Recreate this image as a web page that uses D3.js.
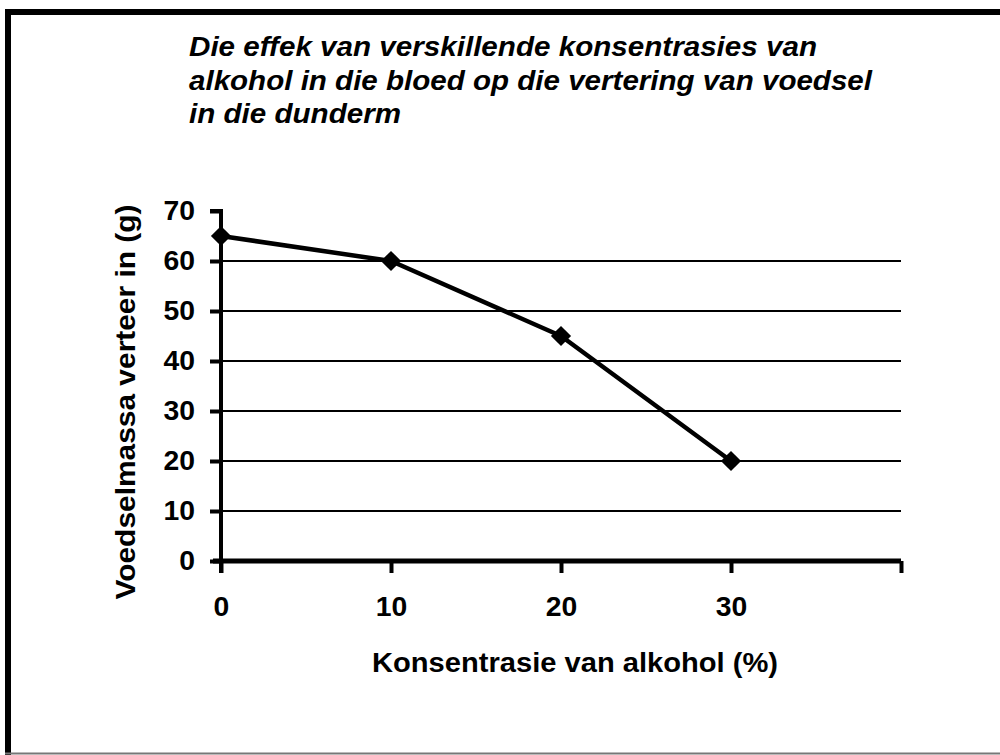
<!DOCTYPE html>
<html><head><meta charset="utf-8">
<script src="https://cdn.jsdelivr.net/npm/d3@7"></script>
<style>body{margin:0;background:#fff}svg{display:block}text{font-family:"Liberation Sans",Arial,sans-serif}</style>
</head><body><svg id="c" width="1000" height="755"></svg>
<script>
const titleLines = ["Die effek van verskillende konsentrasies van","alkohol in die bloed op die vertering van voedsel","in die dunderm"];
const titleWidths = [628, 683, 212];
const xValues = [0, 10, 20, 30];
const yValues = [65, 60, 45, 20];
const xTicks = [0, 10, 20, 30, 40];
const xTickLabels = ["0","10","20","30",""];
const yTicks = [0,10,20,30,40,50,60,70];
const xTitle = "Konsentrasie van alkohol (%)";
const yTitle = "Voedselmassa verteer in (g)";

const svg = d3.select("#c");
svg.append("rect").attr("x",0).attr("y",0).attr("width",1000).attr("height",755).attr("fill","#fff");
svg.append("line").attr("x1",5).attr("x2",1000).attr("y1",12).attr("y2",12).attr("stroke","#000").attr("stroke-width",6);
svg.append("line").attr("x1",8).attr("x2",8).attr("y1",9).attr("y2",755).attr("stroke","#000").attr("stroke-width",6);
svg.append("line").attr("x1",5).attr("x2",1000).attr("y1",753.5).attr("y2",753.5).attr("stroke","#777").attr("stroke-width",2);

const x = d3.scaleLinear().domain([0,40]).range([221,901]);
const y = d3.scaleLinear().domain([0,70]).range([561,211]);

// title
const t = svg.append("g");
titleLines.forEach((l,i)=>t.append("text").attr("x",189).attr("y",56+i*33.5)
  .attr("font-size",28).attr("font-weight","bold").attr("font-style","italic")
  .attr("textLength",titleWidths[i]).attr("lengthAdjust","spacingAndGlyphs").text(l));

// gridlines
svg.append("g").selectAll("line").data(yTicks.filter(d=>d>0 && d<70)).join("line")
  .attr("x1",x(0)).attr("x2",x(40)).attr("y1",d=>y(d)).attr("y2",d=>y(d))
  .attr("stroke","#000").attr("stroke-width",2);

function stretch(sel, f){
  sel.each(function(){ const w=this.getComputedTextLength(); d3.select(this).attr("textLength",w*f).attr("lengthAdjust","spacingAndGlyphs"); });
}

// y axis
const ya = svg.append("g").attr("transform",`translate(${x(0)},0)`)
  .call(d3.axisLeft(y).tickValues(yTicks).tickSize(11).tickPadding(15).tickFormat(d3.format("d")));
ya.select(".domain").attr("stroke-width",4).attr("d",`M-11,${y(70)}H0V${y(0)+12}`);
ya.selectAll(".tick line").attr("stroke-width",4);
ya.selectAll(".tick text").attr("font-size",27).attr("font-weight","bold").attr("fill","#000").attr("font-family","Liberation Sans, Arial, sans-serif");
stretch(ya.selectAll(".tick text"),1.05);

// x axis
const xa = svg.append("g").attr("transform",`translate(0,${y(0)})`)
  .call(d3.axisBottom(x).tickValues(xTicks).tickSize(12).tickPadding(24).tickFormat((d,i)=>xTickLabels[i]));
xa.select(".domain").attr("stroke-width",5).attr("d",`M${x(0)-8},0H${x(40)}`);
xa.selectAll(".tick line").attr("stroke-width",4);
xa.selectAll(".tick text").attr("font-size",27).attr("font-weight","bold").attr("fill","#000").attr("font-family","Liberation Sans, Arial, sans-serif");
stretch(xa.selectAll(".tick text").filter(function(){return this.textContent!=="";}),1.05);

// axis titles
svg.append("text").attr("x",575).attr("y",672).attr("text-anchor","middle").attr("font-size",27).attr("font-weight","bold")
  .attr("textLength",406).attr("lengthAdjust","spacingAndGlyphs").text(xTitle);
svg.append("text").attr("transform","translate(135,402) rotate(-90)").attr("text-anchor","middle").attr("font-size",27).attr("font-weight","bold")
  .attr("textLength",395).attr("lengthAdjust","spacingAndGlyphs").text(yTitle);

// line + markers
const pts = xValues.map((d,i)=>[d,yValues[i]]);
svg.append("path").datum(pts).attr("fill","none").attr("stroke","#000").attr("stroke-width",4.5).attr("stroke-linejoin","round")
  .attr("d",d3.line().x(d=>x(d[0])).y(d=>y(d[1])));
svg.append("g").selectAll("path").data(pts).join("path")
  .attr("transform",d=>`translate(${x(d[0])},${y(d[1])})`)
  .attr("d",d3.symbol().type(d3.symbolDiamond2).size(260)).attr("fill","#000");
</script></body></html>
